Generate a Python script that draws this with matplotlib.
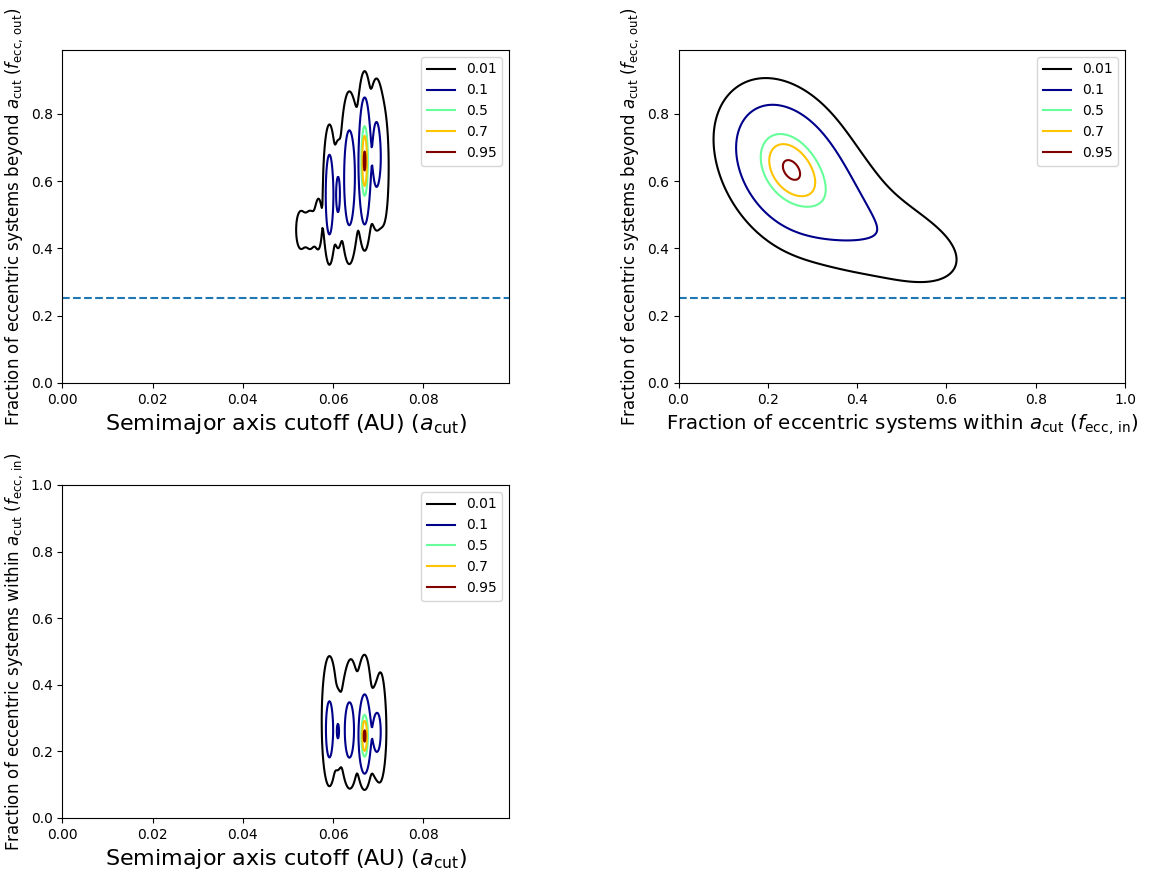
import numpy as np
import matplotlib
matplotlib.use('Agg')
import matplotlib.pyplot as plt
from matplotlib.lines import Line2D

# contour levels (fraction of peak density) and their colours
levels = [0.01, 0.1, 0.5, 0.7, 0.95]
level_colors = ['black', '#00008b', '#66ff99', '#ffc400', '#800000']
level_labels = ['0.01', '0.1', '0.5', '0.7', '0.95']

f_ecc_all = 0.253   # dashed reference line

# panel 1: a_cut vs f_ecc,out  (components)
a1_cen = [0.0528, 0.0550, 0.0568, 0.0592, 0.0611, 0.0636, 0.0651, 0.0670, 0.0696, 0.0712]
f1_cen = [0.455, 0.455, 0.475, 0.560, 0.560, 0.610, 0.640, 0.660, 0.680, 0.640]
w1 = [0.018, 0.018, 0.020, 0.30, 0.13, 0.27, 0.02, 1.00, 0.165, 0.035]
sa1 = [0.0009, 0.0009, 0.0006, 0.00055, 0.0005, 0.0008, 0.0006, 0.0006, 0.0008, 0.0007]
sf1 = [0.05, 0.05, 0.06, 0.08, 0.07, 0.10, 0.10, 0.088, 0.095, 0.10]

# panel 2: f_ecc,in vs f_ecc,out
fin2_cen = [0.245, 0.300, 0.430, 0.520]
fout2_cen = [0.645, 0.580, 0.460, 0.410]
w2 = [1.0, 0.35, 0.08, 0.02]
sin2 = [0.055, 0.070, 0.090, 0.060]
sout2 = [0.088, 0.090, 0.080, 0.050]
rho2 = [-0.3, -0.5, -0.6, -0.4]

# panel 3: a_cut vs f_ecc,in
a3_cen = [0.0592, 0.0611, 0.0636, 0.0670, 0.0696, 0.0592, 0.0640, 0.0670, 0.0705]
f3_cen = [0.263, 0.260, 0.262, 0.245, 0.256, 0.310, 0.310, 0.320, 0.280]
w3 = [0.22, 0.105, 0.20, 1.00, 0.16, 0.03, 0.022, 0.06, 0.028]
sa3 = [0.00055, 0.0005, 0.0008, 0.0006, 0.0008, 0.0011, 0.0012, 0.0008, 0.0008]
sf3 = [0.060, 0.05, 0.065, 0.052, 0.055, 0.12, 0.13, 0.09, 0.11]


def density(X, Y, cx, cy, sx, sy, w, rho=None):
    if rho is None:
        rho = [0.0] * len(cx)
    Z = np.zeros_like(X)
    for i in range(len(cx)):
        dx = (X - cx[i]) / sx[i]
        dy = (Y - cy[i]) / sy[i]
        r = rho[i]
        Z += w[i] * np.exp(-0.5 * (dx**2 + dy**2 - 2 * r * dx * dy) / (1 - r**2))
    return Z / Z.max()


def draw(ax, X, Y, Z):
    ax.contour(X, Y, Z, levels=levels, colors=level_colors, linewidths=1.5)
    handles = [Line2D([], [], color=c, lw=1.5) for c in level_colors]
    ax.legend(handles, level_labels, loc='upper right')


fig = plt.figure(figsize=(11.51, 8.72), dpi=100)
ax1 = fig.add_axes([0.0542, 0.5608, 0.3880, 0.3819])
ax2 = fig.add_axes([0.5895, 0.5608, 0.3880, 0.3819])
ax3 = fig.add_axes([0.0542, 0.0620, 0.3880, 0.3819])

a_grid = np.linspace(0, 0.099, 700)
f_grid = np.linspace(0, 1.0, 500)

# panel 1
X, Y = np.meshgrid(a_grid, f_grid)
Z1 = density(X, Y, a1_cen, f1_cen, sa1, sf1, w1)
draw(ax1, X, Y, Z1)
ax1.axhline(f_ecc_all, color='C0', ls='--', lw=1.5)
ax1.set_xlim(0, 0.099)
ax1.set_ylim(0, 0.99)
ax1.set_xticks([0, 0.02, 0.04, 0.06, 0.08])
ax1.set_xlabel(r'Semimajor axis cutoff (AU) ($a_{\rm cut}$)', fontsize=16)
ax1.set_ylabel(r'Fraction of eccentric systems beyond $a_{\rm cut}$ ($f_{\rm ecc,\,out}$)', fontsize=12)

# panel 2
g = np.linspace(0, 1.0, 500)
X2, Y2 = np.meshgrid(g, g)
Z2 = density(X2, Y2, fin2_cen, fout2_cen, sin2, sout2, w2, rho2)
draw(ax2, X2, Y2, Z2)
ax2.axhline(f_ecc_all, color='C0', ls='--', lw=1.5)
ax2.set_xlim(0, 1.0)
ax2.set_ylim(0, 0.99)
ax2.set_xlabel(r'Fraction of eccentric systems within $a_{\rm cut}$ ($f_{\rm ecc,\,in}$)', fontsize=14.2)
ax2.set_ylabel(r'Fraction of eccentric systems beyond $a_{\rm cut}$ ($f_{\rm ecc,\,out}$)', fontsize=12)

# panel 3
Z3 = density(X, Y, a3_cen, f3_cen, sa3, sf3, w3)
draw(ax3, X, Y, Z3)
ax3.set_xlim(0, 0.099)
ax3.set_ylim(0, 1.0)
ax3.set_xticks([0, 0.02, 0.04, 0.06, 0.08])
ax3.set_xlabel(r'Semimajor axis cutoff (AU) ($a_{\rm cut}$)', fontsize=16)
ax3.set_ylabel(r'Fraction of eccentric systems within $a_{\rm cut}$ ($f_{\rm ecc,\,in}$)', fontsize=12)

fig.savefig('out.png', dpi=100)
